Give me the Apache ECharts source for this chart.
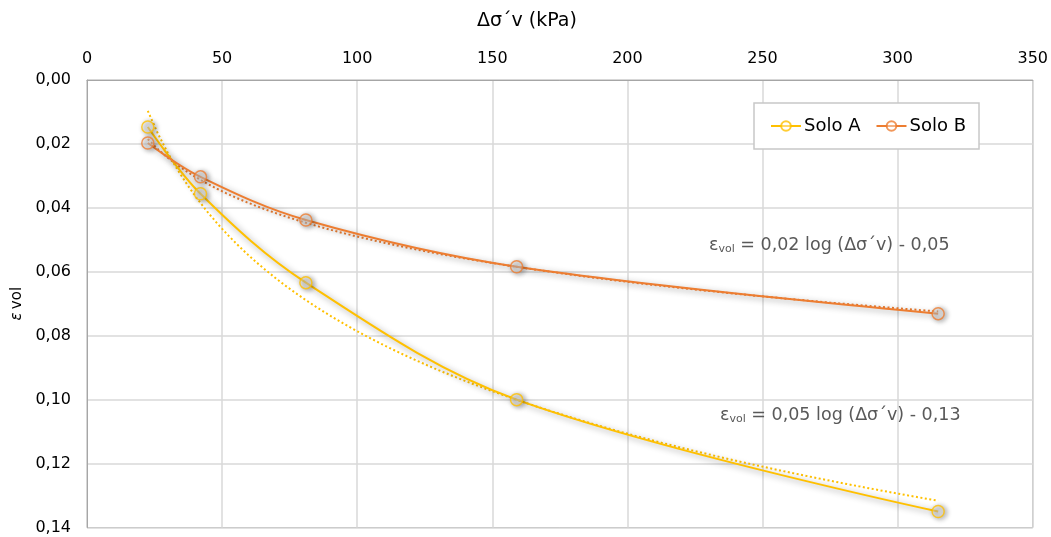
<!DOCTYPE html>
<html>
<head>
<meta charset="utf-8">
<script src="https://cdn.jsdelivr.net/npm/echarts@6/dist/echarts.min.js"></script>
<style>
  html, body { margin: 0; padding: 0; background: #fff; }
  #chart { width: 1051px; height: 537px; }
</style>
</head>
<body>
<div id="chart"></div>
<script>
// Stress increment (kPa) for each load stage
const stressA = [22.5, 42, 81, 159, 315];
const strainA = [0.0147, 0.0356, 0.0634, 0.100, 0.135];
const stressB = [22.5, 42, 81, 159, 315];
const strainB = [0.0197, 0.0303, 0.0438, 0.0584, 0.0731];

const seriesNames = ['Solo A', 'Solo B'];
const colorA = '#FFC000';
const colorB = '#ED7D31';

const xTicks = { min: 0, max: 350, interval: 50 };
const yTicks = { min: 0, max: 0.14, interval: 0.02 };

const equationA = '0,05 log (Δσ´v) - 0,13';
const equationB = '0,02 log (Δσ´v) - 0,05';

const FONT = '"DejaVu Sans", Verdana, sans-serif';

// Least-squares fit of y = a·ln(x) + b
function logFit(xs, ys) {
  const lx = xs.map(Math.log);
  const n = xs.length;
  const mx = lx.reduce((s, v) => s + v, 0) / n;
  const my = ys.reduce((s, v) => s + v, 0) / n;
  let sxy = 0, sxx = 0;
  for (let i = 0; i < n; i++) {
    sxy += (lx[i] - mx) * (ys[i] - my);
    sxx += (lx[i] - mx) * (lx[i] - mx);
  }
  const a = sxy / sxx;
  return { a, b: my - a * mx };
}

function trendPoints(xs, ys) {
  const f = logFit(xs, ys);
  const x0 = Math.min(...xs), x1 = Math.max(...xs);
  const pts = [];
  const steps = 80;
  for (let i = 0; i <= steps; i++) {
    const x = x0 + (x1 - x0) * i / steps;
    pts.push([x, f.a * Math.log(x) + f.b]);
  }
  return pts;
}

const pairs = (xs, ys) => xs.map((x, i) => [x, ys[i]]);

const lineShadow = {
  shadowColor: 'rgba(0,0,0,0.42)',
  shadowBlur: 6,
  shadowOffsetX: 2,
  shadowOffsetY: 2
};
const markShadow = {
  shadowColor: 'rgba(0,0,0,0.55)',
  shadowBlur: 5,
  shadowOffsetX: 2,
  shadowOffsetY: 1
};

function dataSeries(name, color, xs, ys) {
  return {
    name, type: 'line', data: pairs(xs, ys), smooth: 0.35,
    symbol: 'circle', symbolSize: 12, showSymbol: true,
    itemStyle: Object.assign({ color: 'rgba(255,255,255,0.5)', borderColor: color, borderWidth: 1.5, opacity: 0.8 }, markShadow),
    lineStyle: Object.assign({ color, width: 2 }, lineShadow),
    color, z: 3
  };
}

function trendSeries(color, xs, ys) {
  return {
    type: 'line', data: trendPoints(xs, ys), symbol: 'none', smooth: false,
    lineStyle: { color, width: 2, type: [2, 2.5] }, silent: true, z: 2
  };
}

const fmt = v => v.toFixed(2).replace('.', ',');

const eqRich = {
  e: { fontFamily: FONT, fontSize: 17.5, color: '#595959' },
  sub: { fontFamily: FONT, fontSize: 11, color: '#595959', padding: [9, 0, 0, 0] }
};

const chart = echarts.init(document.getElementById('chart'));
chart.setOption({
  animation: false,
  backgroundColor: '#fff',
  title: {
    text: 'Δσ´v (kPa)', left: 472, top: 7,
    textStyle: { fontFamily: FONT, fontSize: 19, fontWeight: 'normal', color: '#000' }
  },
  grid: {
    left: 87, top: 80, right: 18, bottom: 9.5,
    show: true, borderColor: '#A6A6A6', borderWidth: 1, containLabel: false
  },
  legend: {
    data: seriesNames, left: 754, top: 103, width: 225,
    padding: [14, 13, 14, 16], itemGap: 15, itemWidth: 30, itemHeight: 12,
    backgroundColor: '#fff', borderColor: '#C8C8C8', borderWidth: 1.5,
    textStyle: { fontFamily: FONT, fontSize: 18, color: '#000', padding: [0, 0, 0, -2] }
  },
  xAxis: {
    type: 'value', position: 'top', min: xTicks.min, max: xTicks.max, interval: xTicks.interval,
    axisLine: { show: true, lineStyle: { color: '#A6A6A6' } },
    axisTick: { show: false },
    axisLabel: { margin: 13, fontFamily: FONT, fontSize: 16, color: '#000' },
    splitLine: { lineStyle: { color: '#D9D9D9', width: 1.5 } }
  },
  yAxis: {
    type: 'value', inverse: true, min: yTicks.min, max: yTicks.max, interval: yTicks.interval,
    name: '{i|ε} {n|vol}', nameLocation: 'middle', nameRotate: 90, nameGap: 62,
    nameTextStyle: {
      rich: {
        i: { fontFamily: FONT, fontSize: 15, fontStyle: 'italic', color: '#000' },
        n: { fontFamily: FONT, fontSize: 15, color: '#000' }
      }
    },
    axisLine: { show: true, lineStyle: { color: '#A6A6A6' } },
    axisTick: { show: false },
    axisLabel: { margin: 16, fontFamily: FONT, fontSize: 16, color: '#000', formatter: fmt },
    splitLine: { lineStyle: { color: '#D9D9D9', width: 1.5 } }
  },
  graphic: [
    {
      type: 'text', left: 709, top: 236, z: 10,
      style: { text: '{e|ε}{sub|vol}{e| = ' + equationB + '}', rich: eqRich, fill: '#595959' }
    },
    {
      type: 'text', left: 720, top: 406, z: 10,
      style: { text: '{e|ε}{sub|vol}{e| = ' + equationA + '}', rich: eqRich, fill: '#595959' }
    }
  ],
  series: [
    trendSeries(colorA, stressA, strainA),
    trendSeries(colorB, stressB, strainB),
    dataSeries(seriesNames[0], colorA, stressA, strainA),
    dataSeries(seriesNames[1], colorB, stressB, strainB)
  ]
});
</script>
</body>
</html>
